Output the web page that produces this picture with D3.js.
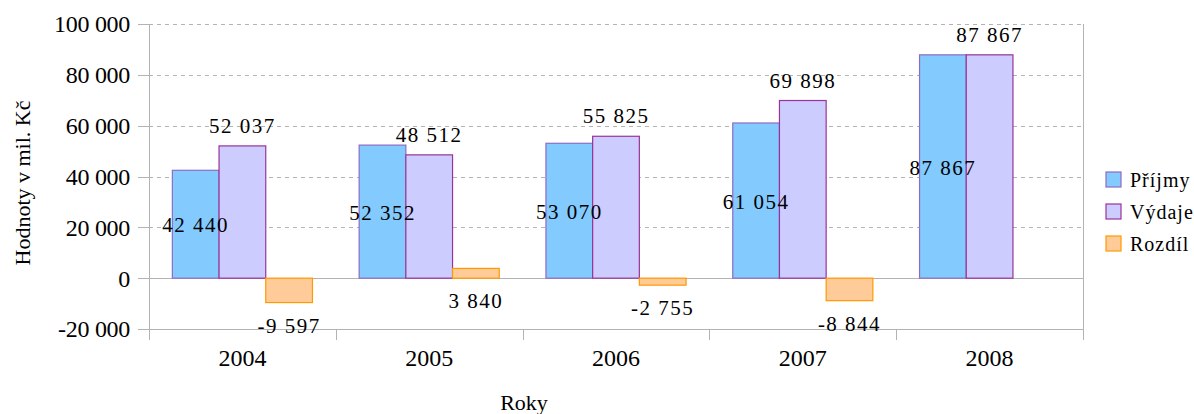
<!DOCTYPE html>
<html><head><meta charset="utf-8">
<script src="https://cdn.jsdelivr.net/npm/d3@7"></script>
<style>body{margin:0;background:#fff}svg{display:block}svg text{font-family:"Liberation Serif",serif;fill:#000}</style>
</head><body><svg id="c" width="1194" height="414"></svg>
<script>
const categories = ["2004","2005","2006","2007","2008"];
const seriesNames = ["Příjmy","Výdaje","Rozdíl"];
const prijmy = [42440, 52352, 53070, 61054, 87867];
const vydaje = [52037, 48512, 55825, 69898, 87867];
const rozdil = [-9597, 3840, -2755, -8844, null];
const yTicks = [-20000, 0, 20000, 40000, 60000, 80000, 100000];
const fills = ["#83caff", "#ccccff", "#ffcc99"];
const strokes = ["#8e6cc4", "#993399", "#ff9900"];

const FONT = '"Liberation Serif", serif';
const svg = d3.select("#c");
const L = 149, R = 1083, T = 24, B = 329;
const fmt = v => { const s = Math.abs(v).toString().replace(/\B(?=(\d{3})+(?!\d))/g, " "); return (v < 0 ? "-" : "") + s; };

const x = d3.scaleBand().domain(categories).range([L, R]).paddingInner(0).paddingOuter(0);
const inner = d3.scaleBand().domain(seriesNames).range([0, x.bandwidth()]).paddingOuter(0.5).paddingInner(0);
const y = d3.scaleLinear().domain([-20000, 100000]).range([B, T]);

// gridlines and y tick marks
yTicks.forEach(t => {
  const solid = (t === 0 || t === -20000);
  const yy = Math.round(y(t)) + 0.5;
  svg.append("line").attr("x1", L).attr("x2", R).attr("y1", yy).attr("y2", yy)
    .attr("stroke", "#b3b3b3").attr("stroke-width", 1)
    .attr("stroke-dasharray", solid ? null : "4,4");
  svg.append("line").attr("x1", L - 11).attr("x2", L).attr("y1", yy).attr("y2", yy)
    .attr("stroke", "#b3b3b3").attr("stroke-width", 1);
});
// left axis & right border
svg.append("line").attr("x1", L + 0.5).attr("x2", L + 0.5).attr("y1", T).attr("y2", B + 11).attr("stroke", "#b3b3b3");
svg.append("line").attr("x1", R + 0.5).attr("x2", R + 0.5).attr("y1", T).attr("y2", B + 11).attr("stroke", "#b3b3b3");
// category ticks
categories.forEach((c, i) => {
  if (i > 0) svg.append("line").attr("x1", Math.round(x(c)) + 0.5).attr("x2", Math.round(x(c)) + 0.5).attr("y1", B).attr("y2", B + 11).attr("stroke", "#b3b3b3");
});

// y tick labels
const yAxis = d3.axisLeft(y).tickValues(yTicks).tickFormat(fmt).tickSize(0).tickPadding(0);
const yg = svg.append("g").attr("transform", `translate(${L - 19},0)`).call(yAxis);
yg.attr("font-family", FONT);
yg.select(".domain").remove();
yg.selectAll("text").attr("font-size", 24).attr("letter-spacing", "-0.3px").attr("dy", "0.33em").attr("font-family", FONT);

// x tick labels
const xAxis = d3.axisBottom(x).tickSize(0).tickPadding(0);
const xg = svg.append("g").attr("transform", `translate(0,${B})`).call(xAxis);
xg.attr("font-family", FONT);
xg.select(".domain").remove();
xg.selectAll("text").attr("font-size", 24).attr("dy", "0").attr("y", 37).attr("font-family", FONT);

// bars
const data = [prijmy, vydaje, rozdil];
data.forEach((vals, si) => {
  const g = svg.append("g");
  vals.forEach((v, ci) => {
    if (v === null) return;
    const bx = x(categories[ci]) + inner(seriesNames[si]);
    const w = inner.bandwidth();
    g.append("rect").attr("x", bx).attr("width", w)
      .attr("y", y(Math.max(v, 0))).attr("height", Math.abs(y(v) - y(0)))
      .attr("fill", fills[si]).attr("stroke", strokes[si]).attr("stroke-width", 1.2);
  });
});
// labels
data.forEach((vals, si) => {
  vals.forEach((v, ci) => {
    if (v === null) return;
    const cx = x(categories[ci]) + inner(seriesNames[si]) + inner.bandwidth() / 2;
    let ty;
    if (si === 0) ty = (y(v) + y(0)) / 2 + 8;
    else if (si === 1) ty = y(v) - 13;
    else ty = y(Math.min(v, 0)) + 30;
    svg.append("text").attr("x", cx).attr("y", ty).attr("text-anchor", "middle").attr("font-family", FONT)
      .attr("font-size", 21).attr("letter-spacing", "1.5px").text(fmt(v));
  });
});

// axis titles
svg.append("text").attr("x", 524).attr("y", 410).attr("text-anchor", "middle").attr("font-family", FONT).attr("font-size", 22).text("Roky");
svg.append("text").attr("transform", "translate(30,183) rotate(-90)").attr("text-anchor", "middle").attr("font-family", FONT).attr("font-size", 22).text("Hodnoty v mil. Kč");

// legend
seriesNames.forEach((n, i) => {
  const ly = 172 + i * 32;
  svg.append("rect").attr("x", 1106).attr("y", ly).attr("width", 15).attr("height", 15)
    .attr("fill", fills[i]).attr("stroke", strokes[i]).attr("stroke-width", 1.2);
  svg.append("text").attr("x", 1130).attr("y", ly + 15).attr("font-family", FONT).attr("font-size", 20).attr("letter-spacing", "1px").text(n);
});
</script></body></html>
